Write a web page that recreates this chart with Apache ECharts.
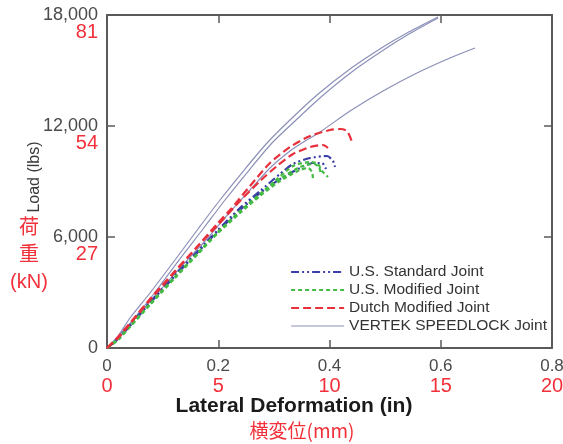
<!DOCTYPE html>
<html>
<head>
<meta charset="utf-8">
<script src="https://cdn.jsdelivr.net/npm/echarts@6/dist/echarts.min.js"></script>
<style>html,body{margin:0;padding:0;background:#fff}#c{width:563px;height:444px}</style>
</head>
<body>
<div id="c"></div>
<script>
// ---- tick labels ----
const xTickIn = ['0', '0.2', '0.4', '0.6', '0.8'];
const xTickMm = ['0', '5', '10', '15', '20'];
const yTickLbs = ['0', '6,000', '12,000', '18,000'];
const yTickKN = ['', '27', '54', '81'];

// ---- series names ----
const seriesNames = ['U.S. Standard Joint', 'U.S. Modified Joint', 'Dutch Modified Joint', 'VERTEK SPEEDLOCK Joint'];

// ---- data: [deformation (in), load (lbs)] ----
const usStandard1 = [[0,0],[0.0198,541],[0.0413,1243],[0.0773,2486],[0.1222,3946],[0.1618,5189],[0.1978,6324],[0.2391,7567],[0.2751,8486],[0.3110,9405],[0.3344,9945],[0.3650,10270],[0.3955,10378],[0.4063,10107],[0.4099,9783]];
const usStandard2 = [[0,0],[0.0198,486],[0.0413,1189],[0.0773,2432],[0.1222,3892],[0.1618,5135],[0.1978,6270],[0.2391,7459],[0.2751,8378],[0.3110,9134],[0.3470,9729],[0.3703,10000],[0.3865,10000],[0.3937,9675]];
const usModified1 = [[0,0],[0.0198,486],[0.0413,1189],[0.0773,2378],[0.1222,3838],[0.1618,5081],[0.1978,6216],[0.2391,7405],[0.2751,8324],[0.3020,9026],[0.3344,9837],[0.3650,10053],[0.3793,9945],[0.3865,9567],[0.3973,9243]];
const usModified2 = [[0,0],[0.0198,432],[0.0413,1135],[0.0773,2324],[0.1222,3784],[0.1618,5027],[0.1978,6162],[0.2391,7297],[0.2751,8216],[0.3110,9026],[0.3470,9621],[0.3614,9729],[0.3686,9513],[0.3703,9080]];
const usModified3 = [[0,0],[0.0198,486],[0.0413,1189],[0.0773,2378],[0.1222,3838],[0.1618,5081],[0.1978,6216],[0.2391,7351],[0.2751,8270],[0.3110,9134],[0.3470,9783],[0.3721,9945],[0.3811,9783],[0.3847,9351]];
const dutch1 = [[0,0],[0.0198,595],[0.0413,1351],[0.0773,2648],[0.1222,4162],[0.1618,5459],[0.1978,6702],[0.2211,7459],[0.2571,8756],[0.2930,10000],[0.3290,10864],[0.3650,11459],[0.4009,11783],[0.4189,11837],[0.4315,11729],[0.4405,11134]];
const dutch2 = [[0,0],[0.0198,541],[0.0413,1297],[0.0773,2594],[0.1222,4108],[0.1618,5459],[0.1978,6594],[0.2391,7945],[0.2751,9026],[0.3056,9837],[0.3344,10486],[0.3650,10864],[0.3883,10972],[0.3973,10810]];
const vertek1 = [[0,0],[0.0198,649],[0.0413,1622],[0.0773,2973],[0.1222,4756],[0.1636,6432],[0.2031,8000],[0.2481,9675],[0.2876,11080],[0.3290,12323],[0.3775,13675],[0.4369,15080],[0.4962,16269],[0.5393,17026],[0.5951,17891]];
const vertek2 = [[0,0],[0.0234,595],[0.0467,1513],[0.0827,2865],[0.1294,4756],[0.1726,6432],[0.2121,8000],[0.2571,9675],[0.2966,11080],[0.3380,12270],[0.3847,13567],[0.4423,14972],[0.4998,16161],[0.5429,16972],[0.5951,17837]];
const vertek3 = [[0,0],[0.0198,595],[0.0413,1297],[0.0863,2811],[0.1312,4324],[0.1762,5783],[0.2211,7351],[0.2571,8540],[0.2930,9729],[0.3290,10648],[0.3560,11189],[0.3829,11675],[0.4369,12810],[0.4962,13891],[0.5573,14864],[0.6166,15675],[0.6616,16215]];

const RED = '#f2303a';
const LABEL = '#4a4a4a';
const AXIS = '#5a5a5a';
const FONT = "'Liberation Sans', Arial, 'Noto Sans CJK JP', sans-serif";

const styles = {
  'U.S. Standard Joint': { color: '#3a3ea6', width: 2.2, type: [8, 3, 2, 3, 2, 3] },
  'U.S. Modified Joint': { color: '#45bb45', width: 2.2, type: [4, 3] },
  'Dutch Modified Joint': { color: '#e8303c', width: 2.2, type: [8, 4] },
  'VERTEK SPEEDLOCK Joint': { color: '#8b90b8', width: 1.2, type: 'solid' }
};

function mk(name, data) {
  const s = styles[name];
  return {
    name: name, type: 'line', data: data, symbol: 'none', showSymbol: false,
    smooth: 0.25, color: s.color,
    lineStyle: { color: s.color, width: s.width, type: s.type },
    emphasis: { disabled: true }, animation: false
  };
}

const series = [
  mk(seriesNames[3], vertek1), mk(seriesNames[3], vertek2), mk(seriesNames[3], vertek3),
  mk(seriesNames[0], usStandard1), mk(seriesNames[0], usStandard2),
  mk(seriesNames[1], usModified1), mk(seriesNames[1], usModified2), mk(seriesNames[1], usModified3),
  mk(seriesNames[2], dutch1), mk(seriesNames[2], dutch2)
];

const legendData = seriesNames.map(n => ({
  name: n,
  itemStyle: { opacity: 0 },
  lineStyle: { color: styles[n].color, width: styles[n].width, type: styles[n].type, opacity: 1 }
}));

const chart = echarts.init(document.getElementById('c'), null, { renderer: 'canvas' });
chart.setOption({
  backgroundColor: '#fff',
  animation: false,
  grid: { left: 107, right: 11, top: 15, bottom: 96, containLabel: false, outerBoundsMode: 'none' },
  legend: {
    data: legendData, orient: 'vertical', left: 290, top: 263, padding: 0,
    itemWidth: 53, itemHeight: 14, itemGap: 0,
    selectedMode: false,
    textStyle: { fontFamily: FONT, fontSize: 15.5, color: '#333', lineHeight: 18 }
  },
  xAxis: [
    {
      type: 'value', position: 'bottom', min: 0, max: 0.8, interval: 0.2,
      axisLine: { show: true, onZero: false, lineStyle: { color: AXIS, width: 2 } },
      axisTick: { show: true, inside: true, length: 8, lineStyle: { color: AXIS, width: 1.5 } },
      splitLine: { show: false },
      axisLabel: {
        margin: 10, fontFamily: FONT,
        formatter: (v, i) => '{a|' + xTickIn[i] + '}\n{b|' + xTickMm[i] + '}',
        rich: {
          a: { fontFamily: FONT, fontSize: 17, lineHeight: 17, color: LABEL, align: 'center' },
          b: { fontFamily: FONT, fontSize: 20, lineHeight: 22, color: RED, align: 'center' }
        }
      }
    },
    {
      type: 'value', position: 'top', min: 0, max: 0.8, interval: 0.2,
      axisLine: { show: true, onZero: false, lineStyle: { color: AXIS, width: 2 } },
      axisTick: { show: true, inside: true, length: 8, lineStyle: { color: AXIS, width: 1.5 } },
      splitLine: { show: false }, axisLabel: { show: false }
    }
  ],
  yAxis: [
    {
      type: 'value', position: 'left', min: 0, max: 18000, interval: 6000,
      axisLine: { show: true, onZero: false, lineStyle: { color: AXIS, width: 2 } },
      axisTick: { show: true, inside: true, length: 8, lineStyle: { color: AXIS, width: 1.5 } },
      splitLine: { show: false },
      axisLabel: {
        margin: 9, fontFamily: FONT,
        formatter: (v, i) => '{s| }\n{a|' + yTickLbs[i] + '}\n{b|' + (yTickKN[i] || ' ') + '}',
        rich: {
          s: { fontFamily: FONT, fontSize: 20, lineHeight: 19, align: 'right' },
          a: { fontFamily: FONT, fontSize: 18, lineHeight: 16, color: LABEL, align: 'right' },
          b: { fontFamily: FONT, fontSize: 20, lineHeight: 19, color: RED, align: 'right' }
        }
      }
    },
    {
      type: 'value', position: 'right', min: 0, max: 18000, interval: 6000,
      axisLine: { show: true, onZero: false, lineStyle: { color: AXIS, width: 2 } },
      axisTick: { show: true, inside: true, length: 8, lineStyle: { color: AXIS, width: 1.5 } },
      splitLine: { show: false }, axisLabel: { show: false }
    }
  ],
  graphic: [
    { type: 'text', x: 35, y: 177, rotation: Math.PI / 2,
      style: { text: 'Load (lbs)', fontFamily: FONT, fontSize: 16, fill: '#3a3a3a', align: 'center', verticalAlign: 'middle' } },
    { type: 'text', x: 29, y: 255,
      style: { text: '荷\n重\n(kN)', fontFamily: FONT, fontSize: 20, lineHeight: 27, fill: RED, align: 'center', verticalAlign: 'middle' } },
    { type: 'text', x: 294, y: 406,
      style: { text: 'Lateral Deformation (in)', fontFamily: FONT, fontSize: 21, fontWeight: 'bold', fill: '#1a1a1a', align: 'center', verticalAlign: 'middle' } },
    { type: 'text', x: 302, y: 431,
      style: { text: '横変位(mm)', fontFamily: "'Noto Sans CJK JP', sans-serif", fontSize: 19, fill: RED, align: 'center', verticalAlign: 'middle' } }
  ],
  series: series
});
</script>
</body>
</html>
